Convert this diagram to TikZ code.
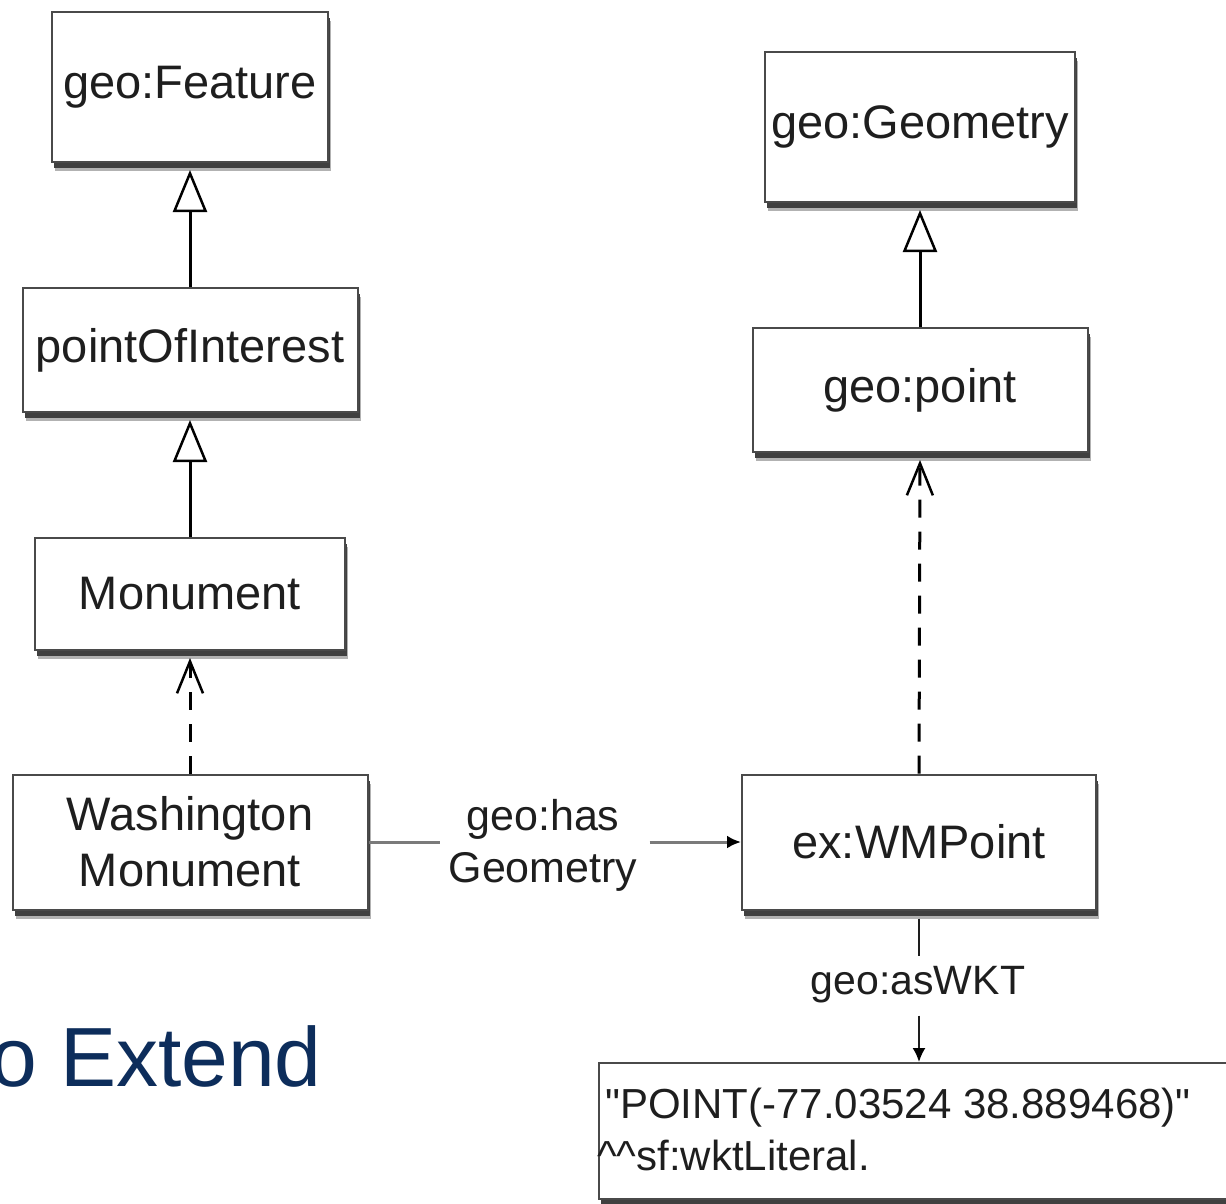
\documentclass[tikz,border=0pt]{standalone}
\usepackage{fontspec}
\setmainfont{Liberation Sans}
\newfontfamily\wktfont{Liberation Sans}[Ligatures=TeXOff]
\usetikzlibrary{arrows.meta,shadows}
\definecolor{boxline}{HTML}{4A4A4A}
\definecolor{txt}{HTML}{1E1E1E}
\definecolor{navy}{HTML}{0D2D5B}
\definecolor{graylink}{HTML}{7A7A7A}
\begin{document}
\begin{tikzpicture}[x=1pt,y=-1pt,
  umlbox/.style={draw=boxline, line width=2pt, fill=white, text=txt,
    font=\fontsize{47}{56}\selectfont, inner sep=0pt, align=center,
    general shadow={shadow xshift=3pt, shadow yshift=-9pt, fill=black!30, draw=none},
    general shadow={shadow xshift=2pt, shadow yshift=-6pt, fill=black!75, draw=none}},
  gen/.style={line width=3pt, draw=black, -{Triangle[open, fill=white, length=42pt, width=34pt, line width=2.5pt]}},
  dep/.style={line width=3pt, draw=black, dash pattern=on 18pt off 14pt, -{Straight Barb[length=32pt, width=26pt, line width=2.5pt]}},
  rel/.style={line width=3pt, draw=graylink},
  reltip/.style={-{Latex[length=14pt, width=13pt, color=black]}},
  lbl/.style={text=txt, font=\fontsize{43}{52}\selectfont, align=center, inner sep=0pt},
  wktline/.style={line width=2pt, draw=txt}
]
\useasboundingbox (0,0) rectangle (1226,1203);
\clip (0,0) rectangle (1226,1203);
\fill[white] (0,0) rectangle (1226,1203);

% left column
\node[umlbox, minimum width=276pt, minimum height=150pt] (feat) at (190,87) {geo:Feature};
\node[umlbox, minimum width=335pt, minimum height=124pt] (poi) at (190,350) {pointOfInterest};
\node[umlbox, minimum width=310pt, minimum height=112pt] (mon) at (190,594) {Monument};
\node[umlbox, minimum width=355pt, minimum height=135pt] (wash) at (190,842) {Washington\\Monument};

% right column
\node[umlbox, minimum width=310pt, minimum height=150pt] (geom) at (920,127) {geo:Geometry};
\node[umlbox, minimum width=335pt, minimum height=124pt] (gpt) at (920,390) {geo:point};
\node[umlbox, minimum width=354pt, minimum height=135pt] (wmp) at (919,842) {ex:WMPoint};
\node[umlbox, minimum width=660pt, minimum height=136pt, anchor=north west] (wkt) at (598,1062) {};
\node[text=txt, font=\wktfont\fontsize{42}{52}\selectfont, align=left, inner sep=0pt, anchor=base west] (wkttext) at (605,1170)
  {"POINT(-77.03524 38.889468)"\\\hspace*{-8pt}\textasciicircum\textasciicircum sf:wktLiteral.};

% generalisations
\draw[gen] (poi.north) -- ([yshift=-7pt]feat.south);
\draw[gen] (mon.north) -- ([yshift=-7pt]poi.south);
\draw[gen] (gpt.north) -- ([yshift=-7pt]geom.south);

% dependencies
\draw[dep] (wash.north) -- ([yshift=-7pt]mon.south);
\draw[dep] (wmp.north) -- ([yshift=-7pt]gpt.south);

% geo:hasGeometry
\node[lbl] (has) at (543,845) {geo:has\\Geometry};
\draw[rel] (wash.east) -- ([xshift=-8pt]has.west |- wash.east);
\draw[rel, reltip] ([xshift=12pt]has.east |- wmp.west) -- (wmp.west);

% geo:asWKT
\node[lbl, font=\fontsize{41}{50}\selectfont] (as) at (918,985) {geo:asWKT};
\draw[wktline] ([yshift=-8pt]wmp.south) -- ([yshift=10pt]as.north -| wmp.south);
\draw[wktline, reltip] ([yshift=-12pt]as.south -| wmp.south) -- (wkt.north -| wmp.south);

% title fragment
\node[text=navy, font=\fontsize{84}{98}\selectfont, inner sep=0pt, anchor=base west] (title) at (-10,1086) {o Extend};
\end{tikzpicture}
\end{document}
